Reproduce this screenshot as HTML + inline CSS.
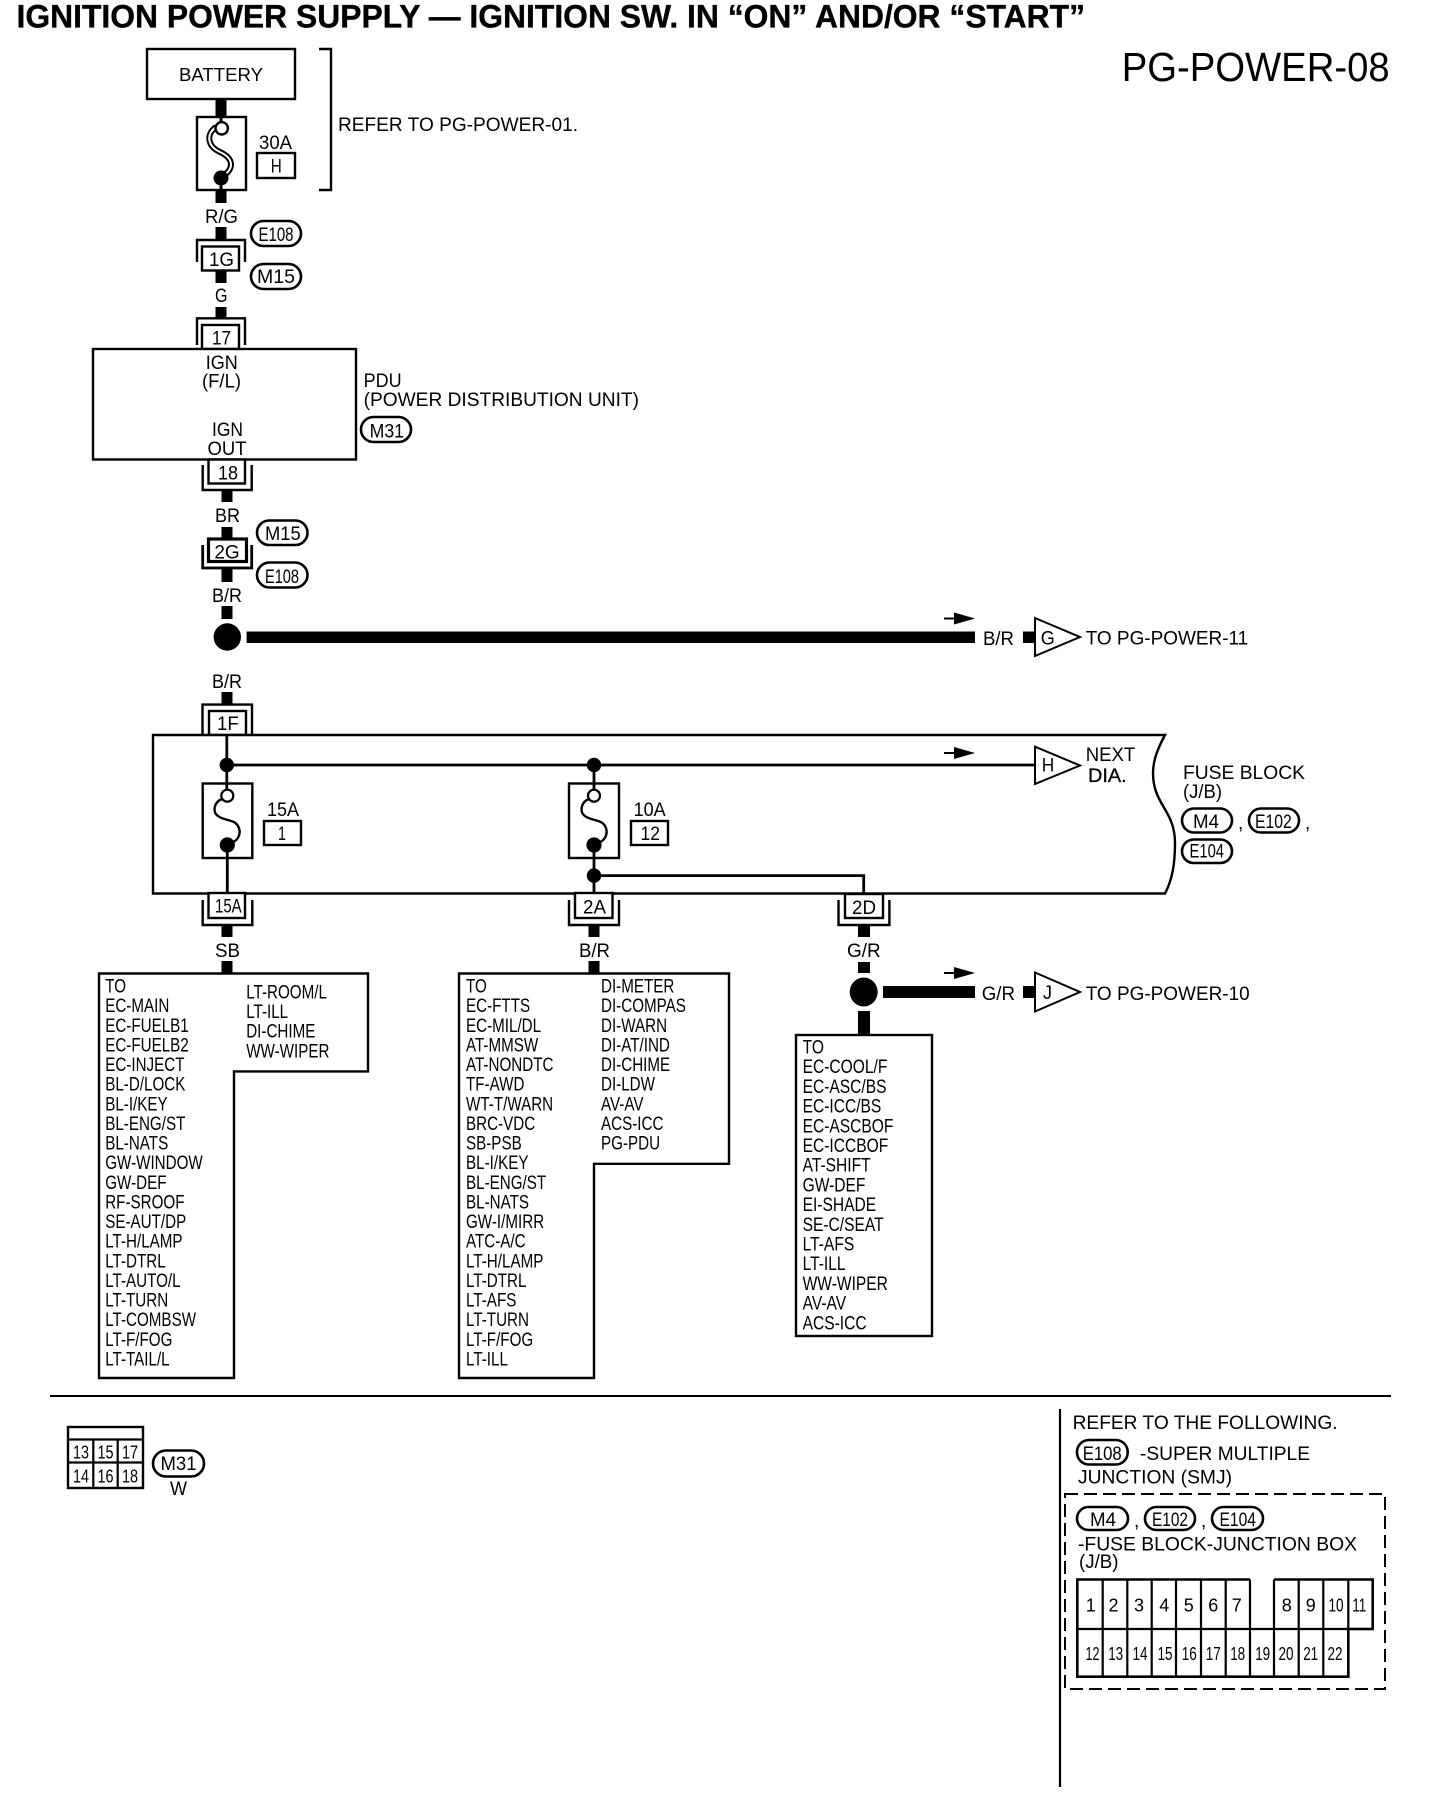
<!DOCTYPE html>
<html><head><meta charset="utf-8"><style>
html,body{margin:0;padding:0;background:#fff}
svg{display:block}
text{font-family:"Liberation Sans",Arial,sans-serif;font-size:19px;fill:#000;white-space:pre}
.n{font-size:18px;text-anchor:middle}
.s{stroke:#000;stroke-width:2.4;fill:none}
.b{stroke:#000;stroke-width:2.4;fill:#fff}
.p{stroke:#000;stroke-width:2.6;fill:#fff}
</style></head><body>
<svg xmlns="http://www.w3.org/2000/svg" width="1440" height="1820" viewBox="0 0 1440 1820">
<rect width="1440" height="1820" fill="#fff"/>
<text x="16.5" y="27.5" style="font-size:32px;font-weight:bold;stroke:#000;stroke-width:.35" textLength="1068.5" lengthAdjust="spacingAndGlyphs">IGNITION POWER SUPPLY — IGNITION SW. IN “ON” AND/OR “START”</text>
<text x="1121.7" y="81" style="font-size:41px" textLength="268" lengthAdjust="spacingAndGlyphs">PG-POWER-08</text>

<!-- wires -->
<g fill="#000">
<rect x="215.5" y="99" width="11" height="18"/><rect x="215.5" y="190" width="11" height="13"/><rect x="215.5" y="227" width="11" height="12"/><rect x="215.5" y="270" width="11" height="13"/><rect x="215.5" y="307" width="11" height="11"/>
<rect x="221.5" y="490" width="11" height="12"/><rect x="221.5" y="527" width="11" height="12"/><rect x="221.5" y="568" width="11" height="14"/><rect x="221.5" y="606" width="11" height="13"/><rect x="221.5" y="692" width="11" height="13"/><rect x="221.5" y="925" width="11" height="12"/><rect x="221.5" y="961" width="11" height="13"/>
<rect x="588.5" y="925" width="11" height="12"/><rect x="588.5" y="961" width="11" height="13"/>
<rect x="858" y="925" width="12" height="12"/><rect x="858" y="962" width="12" height="11"/><rect x="858" y="1011" width="12" height="24"/>
<rect x="246.6" y="631.5" width="728.4" height="11.5"/>
<rect x="883" y="986" width="92" height="12"/>
<rect x="1023" y="631.5" width="12" height="11.5"/><rect x="1023" y="986" width="12" height="12"/>
<circle cx="227.3" cy="637" r="13.7"/><ellipse cx="863.7" cy="992" rx="14" ry="14.5"/>
</g>

<!-- battery -->
<rect class="b" x="147" y="49" width="148" height="50"/>
<text x="179" y="81" style="font-size:18px" textLength="84" lengthAdjust="spacingAndGlyphs">BATTERY</text>
<rect class="b" x="197" y="117" width="49" height="73"/>
<path d="M221 117V124M221 183V190" stroke="#000" stroke-width="3" fill="none"/>
<path d="M216 127C206 134 207 146 220 152C233 158 235 168 223 176" stroke="#000" stroke-width="6" fill="none"/>
<path d="M216 127C206 134 207 146 220 152C233 158 235 168 223 176" stroke="#fff" stroke-width="2" fill="none"/>
<circle cx="221.7" cy="128.3" r="6.2" fill="#fff" stroke="#000" stroke-width="2.4"/>
<circle cx="221" cy="178" r="7.5" fill="#000"/>
<text x="259" y="149" textLength="33" lengthAdjust="spacingAndGlyphs">30A</text>
<rect class="b" x="257" y="153" width="38" height="25"/>
<text x="270.7" y="172.7" textLength="11" lengthAdjust="spacingAndGlyphs">H</text>
<path class="s" d="M319 49H331V190H319"/>
<text x="338" y="131" textLength="240" lengthAdjust="spacingAndGlyphs">REFER TO PG-POWER-01.</text>

<text x="205" y="223" textLength="33" lengthAdjust="spacingAndGlyphs">R/G</text>
<rect class="p" x="251" y="221" width="50" height="25" rx="12.5"/>
<text x="258.5" y="241" textLength="35" lengthAdjust="spacingAndGlyphs">E108</text>
<rect class="p" x="251" y="264" width="50" height="25" rx="12.5"/>
<text x="257" y="283" textLength="38" lengthAdjust="spacingAndGlyphs">M15</text>
<path class="s" d="M197 262V240H245V262"/>
<rect class="b" x="202" y="246.5" width="37" height="24"/>
<text x="209" y="266" textLength="25" lengthAdjust="spacingAndGlyphs">1G</text>
<text x="215" y="302" textLength="12.5" lengthAdjust="spacingAndGlyphs">G</text>
<path class="s" d="M197 345V318.3H245V345"/>
<rect class="b" x="202" y="325" width="37" height="24"/>
<text x="212" y="344.5" textLength="19" lengthAdjust="spacingAndGlyphs">17</text>

<!-- PDU -->
<rect class="b" x="93" y="349" width="263" height="110.5"/>
<text x="205.7" y="369" textLength="32" lengthAdjust="spacingAndGlyphs">IGN</text>
<text x="202" y="387.5" textLength="39" lengthAdjust="spacingAndGlyphs">(F/L)</text>
<text x="212" y="436" textLength="31" lengthAdjust="spacingAndGlyphs">IGN</text>
<text x="207.5" y="455" textLength="39" lengthAdjust="spacingAndGlyphs">OUT</text>
<text x="363.6" y="387" textLength="38" lengthAdjust="spacingAndGlyphs">PDU</text>
<text x="363.6" y="406" textLength="275.4" lengthAdjust="spacingAndGlyphs">(POWER DISTRIBUTION UNIT)</text>
<rect class="p" x="361" y="417" width="50" height="25" rx="12.5"/>
<text x="369.6" y="437.4" textLength="34.4" lengthAdjust="spacingAndGlyphs">M31</text>
<path class="s" d="M202.7 465V490H251.7V465"/>
<rect class="b" x="208.5" y="459.5" width="36.5" height="24"/>
<text x="218" y="479.5" textLength="20" lengthAdjust="spacingAndGlyphs">18</text>
<text x="215" y="522" textLength="25" lengthAdjust="spacingAndGlyphs">BR</text>
<rect class="p" x="257" y="520.5" width="50.5" height="24.5" rx="12.2"/>
<text x="265" y="540" textLength="35.7" lengthAdjust="spacingAndGlyphs">M15</text>
<rect x="208.5" y="539" width="38" height="22.5" fill="#fff" stroke="#000" stroke-width="3.2"/>
<text x="214.4" y="558.7" textLength="25.3" lengthAdjust="spacingAndGlyphs">2G</text>
<path class="s" d="M202.7 545V568H251.7V545" style="stroke-width:2.8"/>
<rect class="p" x="257" y="562.5" width="50.5" height="25" rx="12.5"/>
<text x="265" y="583" textLength="34" lengthAdjust="spacingAndGlyphs">E108</text>
<text x="212" y="602" textLength="30" lengthAdjust="spacingAndGlyphs">B/R</text>

<!-- B/R right -->
<path d="M944 618.5H956" stroke="#000" stroke-width="2"/><polygon points="954,612.5 975,618.5 954,624.5" fill="#000"/>
<text x="983" y="645" textLength="31" lengthAdjust="spacingAndGlyphs">B/R</text>
<polygon points="1035,618 1080,637 1035,656" class="b" style="stroke-width:2"/>
<text x="1040.7" y="644.3" textLength="14" lengthAdjust="spacingAndGlyphs">G</text>
<text x="1085.7" y="644.3" textLength="162.5" lengthAdjust="spacingAndGlyphs">TO PG-POWER-11</text>

<text x="212" y="688" textLength="30" lengthAdjust="spacingAndGlyphs">B/R</text>
<path class="s" d="M202.5 735V704.6H252V735"/>
<rect class="b" x="209" y="711" width="37" height="24"/>
<text x="217" y="730" textLength="21.7" lengthAdjust="spacingAndGlyphs">1F</text>

<!-- Fuse block -->
<path d="M153 735H1165C1158 748 1153 760 1153 773C1153 805 1175 810 1175 843C1175 865 1172 880 1165 893.5H153Z" class="s" style="fill:#fff"/>
<path d="M226.8 735V790M227.3 845V893M594 758V790M594 845V894M227 765H1035" stroke="#000" stroke-width="2.8" fill="none"/>
<path d="M594 875.6H863.7V894" stroke="#000" stroke-width="2.8" fill="none"/>
<circle cx="226.8" cy="765" r="7.2"/><circle cx="594" cy="765" r="7.2"/><circle cx="594" cy="875.6" r="7.2"/>
<rect class="b" x="202.7" y="783.5" width="49.6" height="74.5" style="fill:none"/>
<rect class="b" x="569" y="783.5" width="50" height="74.5" style="fill:none"/>
<path d="M222 799C214 802 212 812 218 816C224 821 234 819 238 826C242 833 238 840 233 842" stroke="#000" stroke-width="2.4" fill="none"/>
<path d="M589 799C581 802 579 812 585 816C591 821 601 819 605 826C609 833 605 840 600 842" stroke="#000" stroke-width="2.4" fill="none"/>
<circle cx="227.3" cy="795.7" r="6" fill="#fff" stroke="#000" stroke-width="2.2"/><circle cx="227.3" cy="845" r="7.6"/>
<circle cx="594" cy="795.7" r="6" fill="#fff" stroke="#000" stroke-width="2.2"/><circle cx="594" cy="845" r="7.6"/>
<text x="267" y="816" textLength="32" lengthAdjust="spacingAndGlyphs">15A</text>
<rect class="b" x="264" y="821" width="37" height="24"/>
<text x="278" y="840" textLength="8" lengthAdjust="spacingAndGlyphs">1</text>
<text x="633.6" y="816" textLength="32" lengthAdjust="spacingAndGlyphs">10A</text>
<rect class="b" x="631" y="821" width="37" height="24"/>
<text x="640.5" y="840" textLength="19.5" lengthAdjust="spacingAndGlyphs">12</text>
<path d="M944 753H956" stroke="#000" stroke-width="2"/><polygon points="954,747 975,753 954,759" fill="#000"/>
<polygon points="1035,746.7 1080,765.5 1035,784" class="b" style="stroke-width:2"/>
<text x="1041.7" y="771.7" textLength="12.5" lengthAdjust="spacingAndGlyphs">H</text>
<text x="1085.7" y="761" textLength="49.5" lengthAdjust="spacingAndGlyphs">NEXT</text>
<text x="1088" y="782" textLength="38.7" lengthAdjust="spacingAndGlyphs" style="stroke:#000;stroke-width:.3">DIA.</text>
<text x="1183" y="779" textLength="122" lengthAdjust="spacingAndGlyphs">FUSE BLOCK</text>
<text x="1183" y="798" textLength="39" lengthAdjust="spacingAndGlyphs">(J/B)</text>
<rect class="p" x="1182" y="808.5" width="50" height="24" rx="12"/>
<text x="1193" y="828" textLength="26" lengthAdjust="spacingAndGlyphs">M4</text>
<text x="1238" y="829">,</text>
<rect class="p" x="1249" y="808.5" width="50" height="24" rx="12"/>
<text x="1255" y="828" textLength="36.7" lengthAdjust="spacingAndGlyphs">E102</text>
<text x="1305" y="829">,</text>
<rect class="p" x="1182" y="839.5" width="50" height="23.5" rx="11.7"/>
<text x="1189.5" y="857.5" textLength="34.5" lengthAdjust="spacingAndGlyphs">E104</text>

<!-- bottom connectors -->
<path class="s" d="M202.7 900V925H252.3V900"/>
<rect class="b" x="208.5" y="893" width="36.5" height="25"/>
<text x="215" y="912.7" textLength="26.6" lengthAdjust="spacingAndGlyphs">15A</text>
<path class="s" d="M569 900V925H619V900"/>
<rect class="b" x="575" y="893" width="37.5" height="25"/>
<text x="583" y="913.5" textLength="23" lengthAdjust="spacingAndGlyphs">2A</text>
<path class="s" d="M838.5 900V925H889.4V900"/>
<rect class="b" x="845" y="894" width="38" height="24"/>
<text x="852" y="914" textLength="24" lengthAdjust="spacingAndGlyphs">2D</text>
<text x="215" y="957" textLength="25" lengthAdjust="spacingAndGlyphs">SB</text>
<text x="579" y="957" textLength="31" lengthAdjust="spacingAndGlyphs">B/R</text>
<text x="847" y="957" textLength="33.7" lengthAdjust="spacingAndGlyphs">G/R</text>

<path d="M944 973H956" stroke="#000" stroke-width="2"/><polygon points="954,967 975,973 954,979" fill="#000"/>
<text x="981.7" y="1000" textLength="33.3" lengthAdjust="spacingAndGlyphs">G/R</text>
<polygon points="1035,972.5 1080,992 1035,1011.5" class="b" style="stroke-width:2"/>
<text x="1043" y="999" textLength="9" lengthAdjust="spacingAndGlyphs">J</text>
<text x="1085.7" y="1000" textLength="164" lengthAdjust="spacingAndGlyphs">TO PG-POWER-10</text>

<!-- lists -->
<path class="s" d="M99 973.5H368V1071.4H234V1378H99Z"/>
<g transform="translate(105.2 0) scale(.8 1)"><text y="992.5">
<tspan x="0">TO</tspan><tspan x="0" dy="19.63">EC-MAIN</tspan><tspan x="0" dy="19.63">EC-FUELB1</tspan><tspan x="0" dy="19.63">EC-FUELB2</tspan><tspan x="0" dy="19.63">EC-INJECT</tspan><tspan x="0" dy="19.63">BL-D/LOCK</tspan><tspan x="0" dy="19.63">BL-I/KEY</tspan><tspan x="0" dy="19.63">BL-ENG/ST</tspan><tspan x="0" dy="19.63">BL-NATS</tspan><tspan x="0" dy="19.63">GW-WINDOW</tspan><tspan x="0" dy="19.63">GW-DEF</tspan><tspan x="0" dy="19.63">RF-SROOF</tspan><tspan x="0" dy="19.63">SE-AUT/DP</tspan><tspan x="0" dy="19.63">LT-H/LAMP</tspan><tspan x="0" dy="19.63">LT-DTRL</tspan><tspan x="0" dy="19.63">LT-AUTO/L</tspan><tspan x="0" dy="19.63">LT-TURN</tspan><tspan x="0" dy="19.63">LT-COMBSW</tspan><tspan x="0" dy="19.63">LT-F/FOG</tspan><tspan x="0" dy="19.63">LT-TAIL/L</tspan></text></g>
<g transform="translate(246.2 0) scale(.8 1)"><text y="998.5">
<tspan x="0">LT-ROOM/L</tspan><tspan x="0" dy="19.63">LT-ILL</tspan><tspan x="0" dy="19.63">DI-CHIME</tspan><tspan x="0" dy="19.63">WW-WIPER</tspan></text></g>

<path class="s" d="M459 973.5H729V1163.8H594V1378H459Z"/>
<g transform="translate(466 0) scale(.8 1)"><text y="992.5">
<tspan x="0">TO</tspan><tspan x="0" dy="19.63">EC-FTTS</tspan><tspan x="0" dy="19.63">EC-MIL/DL</tspan><tspan x="0" dy="19.63">AT-MMSW</tspan><tspan x="0" dy="19.63">AT-NONDTC</tspan><tspan x="0" dy="19.63">TF-AWD</tspan><tspan x="0" dy="19.63">WT-T/WARN</tspan><tspan x="0" dy="19.63">BRC-VDC</tspan><tspan x="0" dy="19.63">SB-PSB</tspan><tspan x="0" dy="19.63">BL-I/KEY</tspan><tspan x="0" dy="19.63">BL-ENG/ST</tspan><tspan x="0" dy="19.63">BL-NATS</tspan><tspan x="0" dy="19.63">GW-I/MIRR</tspan><tspan x="0" dy="19.63">ATC-A/C</tspan><tspan x="0" dy="19.63">LT-H/LAMP</tspan><tspan x="0" dy="19.63">LT-DTRL</tspan><tspan x="0" dy="19.63">LT-AFS</tspan><tspan x="0" dy="19.63">LT-TURN</tspan><tspan x="0" dy="19.63">LT-F/FOG</tspan><tspan x="0" dy="19.63">LT-ILL</tspan></text></g>
<g transform="translate(601 0) scale(.8 1)"><text y="992.5">
<tspan x="0">DI-METER</tspan><tspan x="0" dy="19.63">DI-COMPAS</tspan><tspan x="0" dy="19.63">DI-WARN</tspan><tspan x="0" dy="19.63">DI-AT/IND</tspan><tspan x="0" dy="19.63">DI-CHIME</tspan><tspan x="0" dy="19.63">DI-LDW</tspan><tspan x="0" dy="19.63">AV-AV</tspan><tspan x="0" dy="19.63">ACS-ICC</tspan><tspan x="0" dy="19.63">PG-PDU</tspan></text></g>

<rect class="s" x="796" y="1035" width="136" height="301"/>
<g transform="translate(802.6 0) scale(.82 1)"><text y="1053.5">
<tspan x="0">TO</tspan><tspan x="0" dy="19.7">EC-COOL/F</tspan><tspan x="0" dy="19.7">EC-ASC/BS</tspan><tspan x="0" dy="19.7">EC-ICC/BS</tspan><tspan x="0" dy="19.7">EC-ASCBOF</tspan><tspan x="0" dy="19.7">EC-ICCBOF</tspan><tspan x="0" dy="19.7">AT-SHIFT</tspan><tspan x="0" dy="19.7">GW-DEF</tspan><tspan x="0" dy="19.7">EI-SHADE</tspan><tspan x="0" dy="19.7">SE-C/SEAT</tspan><tspan x="0" dy="19.7">LT-AFS</tspan><tspan x="0" dy="19.7">LT-ILL</tspan><tspan x="0" dy="19.7">WW-WIPER</tspan><tspan x="0" dy="19.7">AV-AV</tspan><tspan x="0" dy="19.7">ACS-ICC</tspan></text></g>

<!-- divider -->
<path d="M50 1396H1391" stroke="#000" stroke-width="2"/>
<path d="M1060 1409V1787" stroke="#000" stroke-width="2.2"/>

<!-- M31 connector -->
<rect class="s" x="68" y="1427" width="75" height="61"/>
<path d="M68 1439.5H143M68 1462.5H143M93.3 1439.5V1488M117.7 1439.5V1488" stroke="#000" stroke-width="2.2" fill="none"/>
<text class="n" x="81" y="1458.3" textLength="16" lengthAdjust="spacingAndGlyphs">13</text><text class="n" x="105.5" y="1458.3" textLength="16" lengthAdjust="spacingAndGlyphs">15</text><text class="n" x="130" y="1458.3" textLength="16" lengthAdjust="spacingAndGlyphs">17</text>
<text class="n" x="81" y="1482.7" textLength="16" lengthAdjust="spacingAndGlyphs">14</text><text class="n" x="105.5" y="1482.7" textLength="16" lengthAdjust="spacingAndGlyphs">16</text><text class="n" x="130" y="1482.7" textLength="16" lengthAdjust="spacingAndGlyphs">18</text>
<rect class="p" x="153" y="1450.5" width="51" height="26" rx="13"/>
<text x="160.5" y="1470" textLength="36" lengthAdjust="spacingAndGlyphs">M31</text>
<text x="170" y="1495" textLength="17" lengthAdjust="spacingAndGlyphs">W</text>

<!-- right bottom panel -->
<text x="1072.6" y="1429" textLength="265" lengthAdjust="spacingAndGlyphs">REFER TO THE FOLLOWING.</text>
<rect class="p" x="1077" y="1440" width="50.7" height="24.5" rx="12"/>
<text x="1082.7" y="1460" textLength="39" lengthAdjust="spacingAndGlyphs">E108</text>
<text x="1140" y="1460" textLength="170" lengthAdjust="spacingAndGlyphs">-SUPER MULTIPLE</text>
<text x="1078" y="1483.5" textLength="154" lengthAdjust="spacingAndGlyphs">JUNCTION (SMJ)</text>
<rect x="1065" y="1494" width="320" height="195" fill="none" stroke="#000" stroke-width="2" stroke-dasharray="13 6"/>
<rect class="p" x="1077" y="1507" width="51" height="23" rx="11.5"/>
<text x="1090" y="1526" textLength="26" lengthAdjust="spacingAndGlyphs">M4</text>
<text x="1134" y="1527">,</text>
<rect class="p" x="1145" y="1507" width="50" height="23" rx="11.5"/>
<text x="1152" y="1526" textLength="36" lengthAdjust="spacingAndGlyphs">E102</text>
<text x="1201" y="1527">,</text>
<rect class="p" x="1212" y="1507" width="51" height="23" rx="11.5"/>
<text x="1219.5" y="1526" textLength="36.5" lengthAdjust="spacingAndGlyphs">E104</text>
<text x="1078" y="1550.7" textLength="279" lengthAdjust="spacingAndGlyphs">-FUSE BLOCK-JUNCTION BOX</text>
<text x="1079" y="1568" textLength="39.5" lengthAdjust="spacingAndGlyphs">(J/B)</text>

<path d="M1077.3 1629V1579.5H1250M1274 1579.5H1372.7V1629H1348.3V1676.7H1077.3V1629" stroke="#000" stroke-width="2.6" fill="none"/>
<path d="M1077.3 1629H1372.7M1102.7 1579.5V1676.7M1127.3 1579.5V1676.7M1151.7 1579.5V1676.7M1176 1579.5V1676.7M1201 1579.5V1676.7M1225.7 1579.5V1676.7M1250 1579.5V1676.7M1274 1579.5V1676.7M1298.7 1579.5V1676.7M1323.3 1579.5V1676.7M1348.3 1579.5V1629" stroke="#000" stroke-width="2.2" fill="none"/>
<text class="n" x="1090.7" y="1611.7">1</text><text class="n" x="1113.5" y="1611.7">2</text><text class="n" x="1139" y="1611.7">3</text><text class="n" x="1164.3" y="1611.7">4</text><text class="n" x="1188.7" y="1611.7">5</text><text class="n" x="1213.3" y="1611.7">6</text><text class="n" x="1236.7" y="1611.7">7</text>
<text class="n" x="1286.7" y="1611.7">8</text><text class="n" x="1310.7" y="1611.7">9</text><text class="n" x="1336" y="1611.7" textLength="15" lengthAdjust="spacingAndGlyphs">10</text><text class="n" x="1359.3" y="1611.7" textLength="14" lengthAdjust="spacingAndGlyphs">11</text>
<text class="n" x="1092.5" y="1660" textLength="14" lengthAdjust="spacingAndGlyphs">12</text><text class="n" x="1115.7" y="1660" textLength="15" lengthAdjust="spacingAndGlyphs">13</text><text class="n" x="1140" y="1660" textLength="15" lengthAdjust="spacingAndGlyphs">14</text><text class="n" x="1165" y="1660" textLength="15" lengthAdjust="spacingAndGlyphs">15</text><text class="n" x="1189.3" y="1660" textLength="15" lengthAdjust="spacingAndGlyphs">16</text><text class="n" x="1213.3" y="1660" textLength="15" lengthAdjust="spacingAndGlyphs">17</text><text class="n" x="1237.7" y="1660" textLength="15" lengthAdjust="spacingAndGlyphs">18</text><text class="n" x="1262.7" y="1660" textLength="15" lengthAdjust="spacingAndGlyphs">19</text><text class="n" x="1286" y="1660" textLength="15" lengthAdjust="spacingAndGlyphs">20</text><text class="n" x="1310.7" y="1660" textLength="15" lengthAdjust="spacingAndGlyphs">21</text><text class="n" x="1335" y="1660" textLength="15" lengthAdjust="spacingAndGlyphs">22</text>
</svg>
</body></html>
